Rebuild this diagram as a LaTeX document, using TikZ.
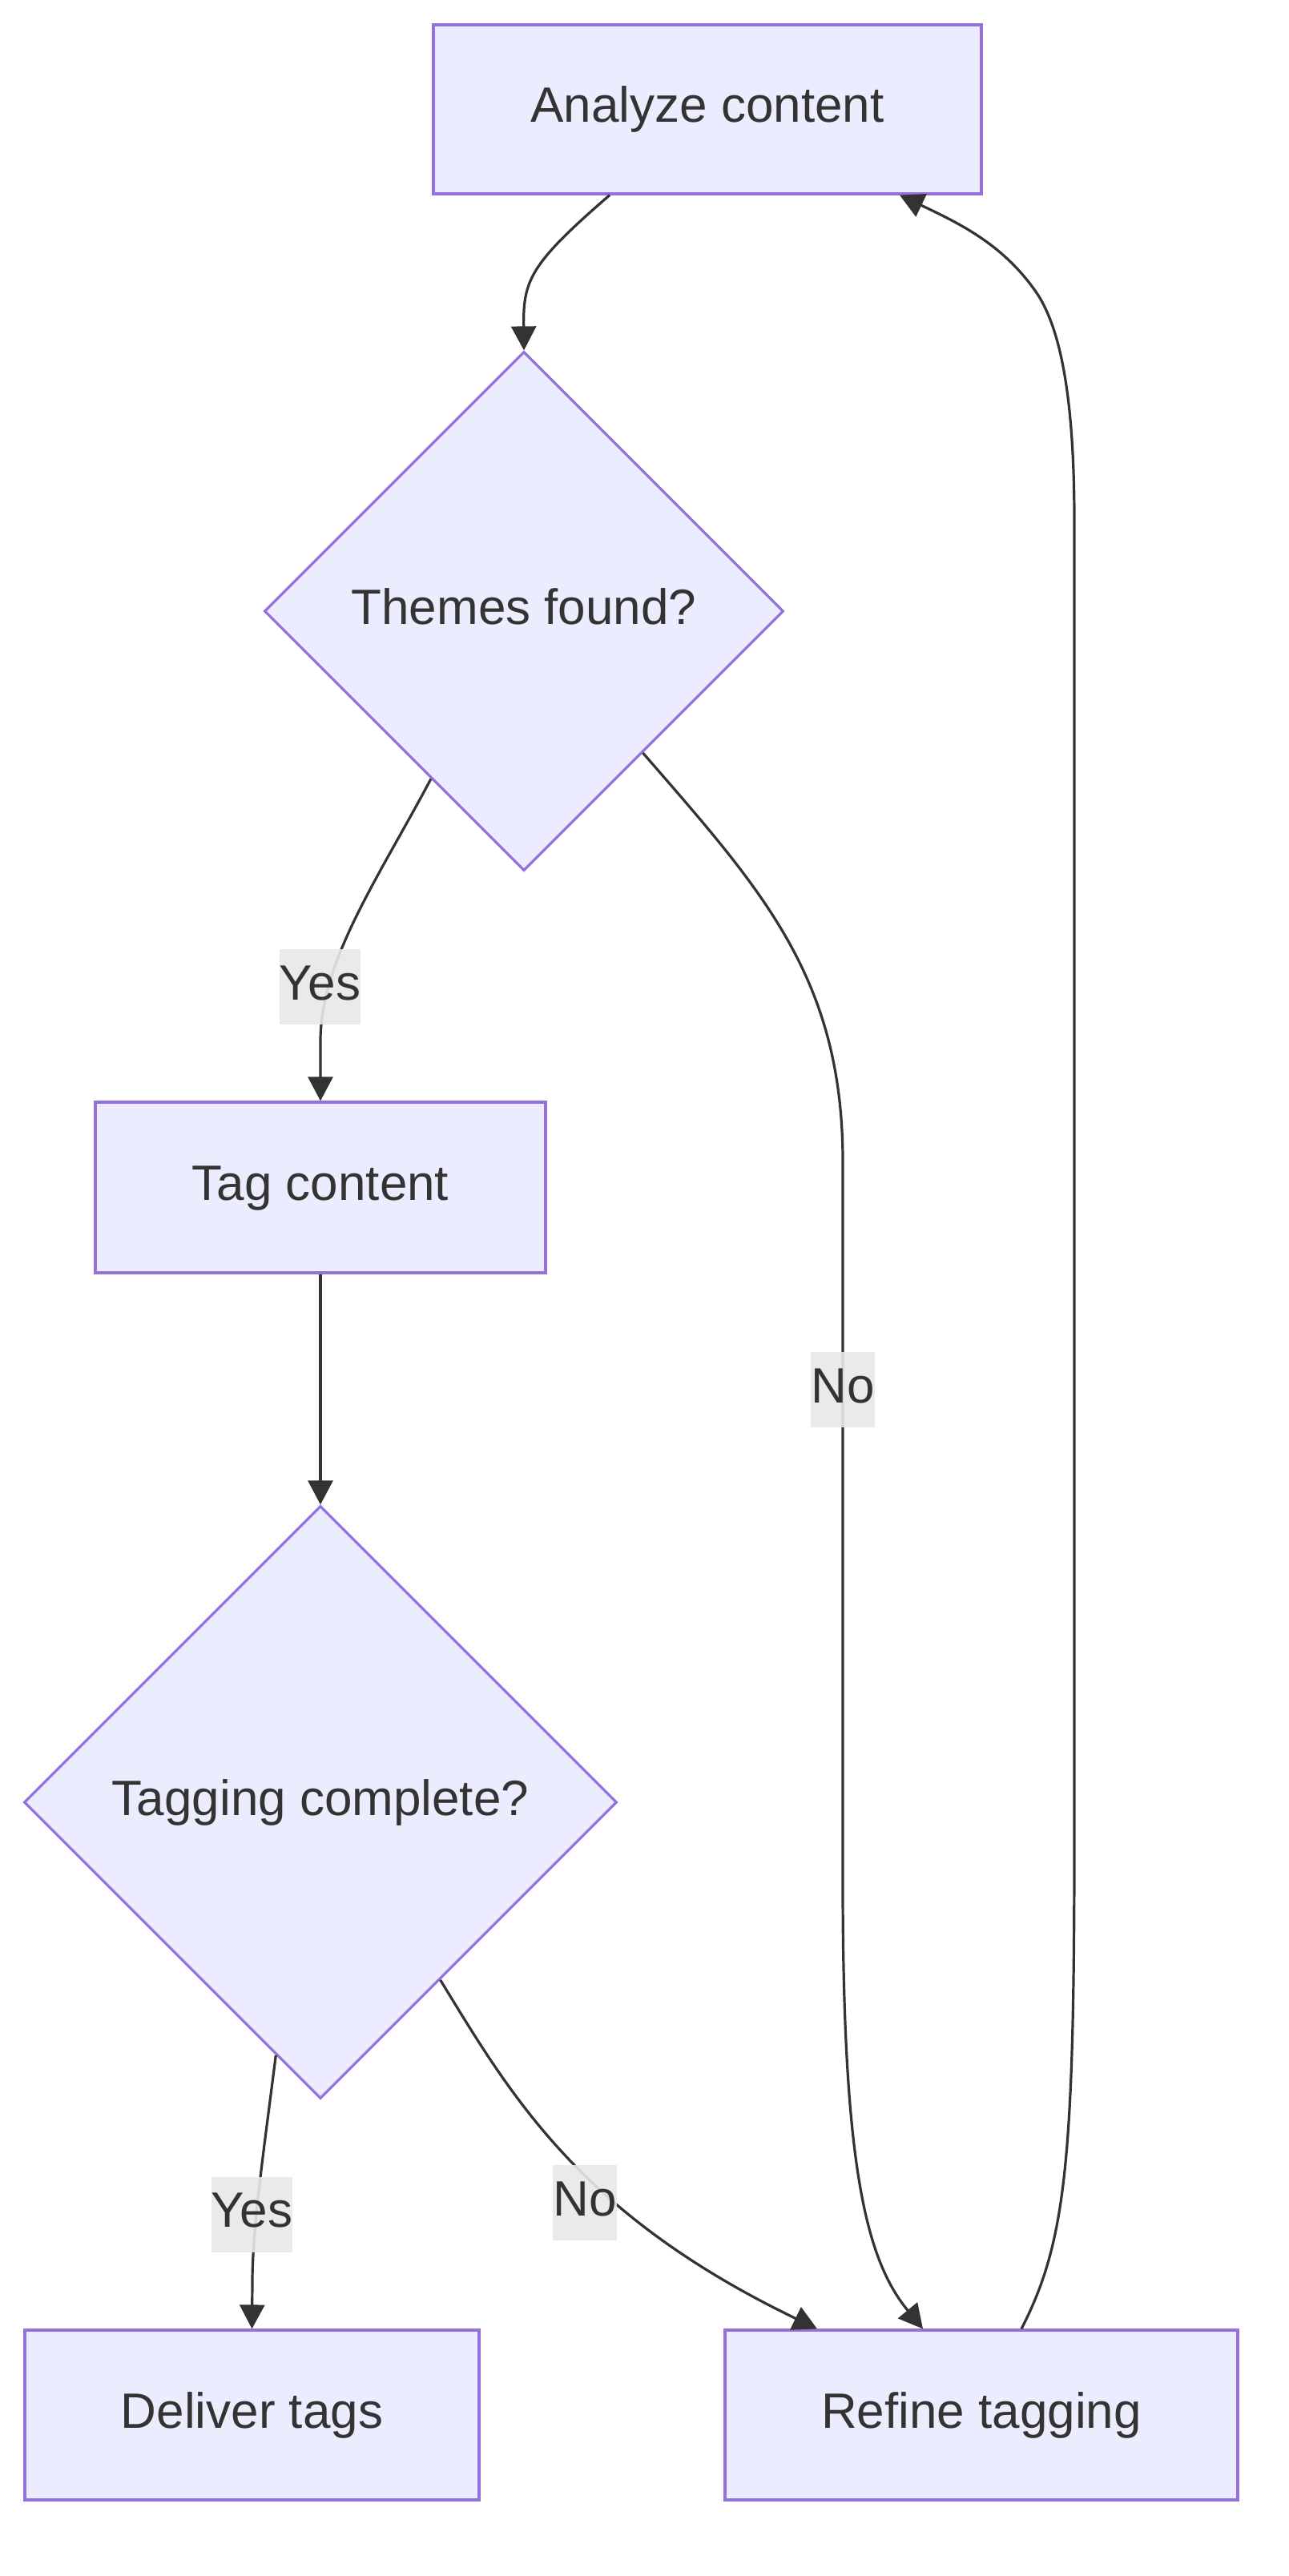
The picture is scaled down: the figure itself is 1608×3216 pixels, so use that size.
\documentclass[tikz,border=0pt]{standalone}
\usepackage{fontspec}
\setmainfont{Liberation Sans}
\usetikzlibrary{shapes.geometric,arrows.meta}
\definecolor{nodefill}{HTML}{ECECFF}
\definecolor{nodestroke}{HTML}{9370DB}
\definecolor{ink}{HTML}{333333}
\definecolor{lblbg}{HTML}{E8E8E8}
\begin{document}
\begin{tikzpicture}[x=0.5pt,y=-0.5pt,
  every node/.style={font=\fontsize{31}{37}\selectfont, text=ink, text height=22.6pt, text depth=6.5pt},
  box/.style={draw=nodestroke, fill=nodefill, line width=1.6pt, inner sep=0pt},
  dia/.style={draw=nodestroke, fill=nodefill, line width=1.6pt, inner sep=0pt, shape=diamond, aspect=1},
  edge/.style={draw=ink, line width=1.6pt, -{Triangle[length=15pt,width=15.5pt]}},
  lbl/.style={fill=lblbg, fill opacity=0.9, text opacity=1, inner sep=0pt, minimum height=47pt}
]
\useasboundingbox (0,0) rectangle (1608,3216);
\fill[white] (0,0) rectangle (1608,3216);

\node[box, minimum width=342pt, minimum height=105.5pt] (an) at (883,136.5) {Analyze content};
\node[dia, minimum width=324pt, minimum height=324pt] (th) at (654,763) {Themes found?};
\node[box, minimum width=281pt, minimum height=106.5pt] (tg) at (400,1482.5) {Tag content};
\node[dia, minimum width=370pt, minimum height=370pt] (tc) at (400,2250) {Tagging complete?};
\node[box, minimum width=283.5pt, minimum height=106pt] (dl) at (314.5,3015) {Deliver tags};
\node[box, minimum width=320pt, minimum height=106pt] (rf) at (1225,3015) {Refine tagging};

% edges
\draw[edge] ([xshift=-61pt]an.south) .. controls (661,330) and (653,350) .. (th.north);
\draw[edge] (th.241) .. controls (470,1100) and (400,1200) .. (400,1300) -- (tg.north);
\draw[edge] (th.-50) .. controls (950,1110) and (1052,1220) .. (1052,1450) -- (1052,2350) .. controls (1052,2700) and (1080,2820) .. ([xshift=-36.5pt]rf.north);
\draw[edge] (tg.south) -- (tc.north);
\draw[edge] (tc.260.5) .. controls (330,2680) and (315,2780) .. (315,2850) -- (dl.north);
\draw[edge] (tc.-56.3) .. controls (640,2620) and (725,2765) .. ([xshift=-102.5pt]rf.north);
\draw[edge] ([xshift=25pt]rf.north) .. controls (1330,2800) and (1341,2700) .. (1341,2300) -- (1341,650) .. controls (1341,480) and (1320,400) .. (1290,360) .. controls (1250,305) and (1200,280) .. ([xshift=120pt]an.south);

% labels
\node[lbl, minimum width=50.5pt] (l1) at (399.5,1232) {Yes};
\node[lbl, minimum width=39pt] (l2) at (1052,1735) {No};
\node[lbl, minimum width=50.5pt] (l3) at (314.5,2764.5) {Yes};
\node[lbl, minimum width=39pt] (l4) at (730,2750) {No};
\end{tikzpicture}
\end{document}
